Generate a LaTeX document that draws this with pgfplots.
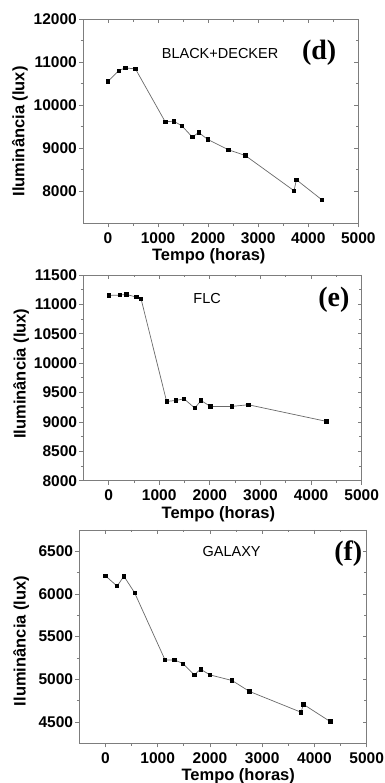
\documentclass[border=0pt]{standalone}
\usepackage{fontspec}
\setmainfont{Liberation Sans}
\newfontfamily\timesb{Liberation Serif}
\usepackage{pgfplots}
\pgfplotsset{compat=1.18}
\definecolor{axgray}{RGB}{125,125,125}
\definecolor{lngray}{RGB}{105,105,105}

\pgfplotstableread{
t lux
0 10558
214 10806
348 10868
548 10845
1143 9612
1310 9628
1477 9519
1684 9256
1811 9364
1992 9202
2406 8961
2741 8829
3716 8008
3763 8264
4271 7798
}\dataD

\pgfplotstableread{
t lux
0 11152
225 11158
351 11169
550 11124
642 11090
1146 9348
1325 9365
1490 9393
1702 9236
1828 9365
2007 9264
2430 9264
2762 9292
4300 9010
}\dataE

\pgfplotstableread{
t lux
0 6213
224 6092
353 6209
558 6015
1141 5227
1321 5227
1487 5184
1699 5052
1821 5118
2000 5052
2423 4986
2756 4858
3744 4614
3788 4707
4301 4505
}\dataF

\pgfplotsset{
  panel/.style={
    scale only axis, anchor=south west,
    xmin=-500, xmax=5000,
    xtick={0,1000,...,5000},
    minor x tick num=1,
    minor y tick num=1,
    scaled ticks=false,
    axis line style={axgray, line width=0.9pt},
    every tick/.style={axgray, line width=0.8pt},
    major tick length=4pt, minor tick length=2.5pt,
    /pgf/number format/assume math mode=true,
    /pgf/number format/1000 sep={},
    tick label style={font=\fontsize{15.5}{15.5}\selectfont\bfseries},
    label style={font=\fontsize{16.5}{16.5}\selectfont\bfseries, inner sep=1pt},
  },
  lowerticks/.style={xtick pos=bottom, ytick pos=left, tick align=outside,
    xticklabel={\pgfmathprintnumber{\tick}},
    yticklabel={\pgfmathprintnumber{\tick}},
    yticklabel style={inner sep=2pt},
    xticklabel style={inner sep=1pt, yshift=-4pt},
    xlabel={Tempo (horas)}, ylabel={Iluminância (lux)}},
  upperticks/.style={xtick pos=top, ytick pos=right, tick align=inside,
    xticklabels={}, yticklabels={}},
  dataline/.style={lngray, line width=0.7pt, mark=square*, mark size=1.7pt,
    mark options={black, fill=black, solid}},
}

\begin{document}
\begin{tikzpicture}
\path[use as bounding box] (0,0) rectangle (384pt,783pt);

% ---------- (d)
\begin{axis}[panel, lowerticks, at={(83pt,559.7pt)}, width=275.3pt, height=204pt,
  ymin=7250, ymax=12000, ytick={8000,9000,...,12000},
  xlabel style={at={(axis description cs:0.457,-0.162)}, anchor=center},
  ylabel style={at={(axis description cs:-0.229,0.45)}, anchor=center}]
\addplot[dataline] table[x=t,y=lux]{\dataD};
\node[font=\fontsize{14.5}{14.5}\selectfont] at (rel axis cs:0.498,0.834) {BLACK+DECKER};
\node[font=\fontsize{28}{28}\selectfont\timesb\bfseries] at (rel axis cs:0.858,0.834) {(d)};
\end{axis}
\begin{axis}[panel, upperticks, at={(83pt,559.7pt)}, width=275.3pt, height=204pt,
  ymin=7250, ymax=12000, ytick={8000,9000,...,12000}]
\end{axis}

% ---------- (e)
\begin{axis}[panel, lowerticks, at={(83.3pt,302.3pt)}, width=278.4pt, height=205.7pt,
  ymin=8000, ymax=11500, ytick={8000,8500,...,11500},
  xlabel style={at={(axis description cs:0.485,-0.165)}, anchor=center},
  ylabel style={at={(axis description cs:-0.223,0.52)}, anchor=center}]
\addplot[dataline] table[x=t,y=lux]{\dataE};
\node[font=\fontsize{14.5}{14.5}\selectfont] at (rel axis cs:0.445,0.887) {FLC};
\node[font=\fontsize{28}{28}\selectfont\timesb\bfseries] at (rel axis cs:0.9,0.878) {(e)};
\end{axis}
\begin{axis}[panel, upperticks, at={(83.3pt,302.3pt)}, width=278.4pt, height=205.7pt,
  ymin=8000, ymax=11500, ytick={8000,8500,...,11500}]
\end{axis}

% ---------- (f)
\begin{axis}[panel, lowerticks, at={(79.3pt,39.7pt)}, width=287.4pt, height=213.3pt,
  ymin=4250, ymax=6750, ytick={4500,5000,...,6500},
  xlabel style={at={(axis description cs:0.553,-0.155)}, anchor=center},
  ylabel style={at={(axis description cs:-0.202,0.48)}, anchor=center}]
\addplot[dataline] table[x=t,y=lux]{\dataF};
\node[font=\fontsize{14.5}{14.5}\selectfont] at (rel axis cs:0.53,0.898) {GALAXY};
\node[font=\fontsize{28}{28}\selectfont\timesb\bfseries] at (rel axis cs:0.936,0.89) {(f)};
\end{axis}
\begin{axis}[panel, upperticks, at={(79.3pt,39.7pt)}, width=287.4pt, height=213.3pt,
  ymin=4250, ymax=6750, ytick={4500,5000,...,6500}]
\end{axis}
\end{tikzpicture}
\end{document}
